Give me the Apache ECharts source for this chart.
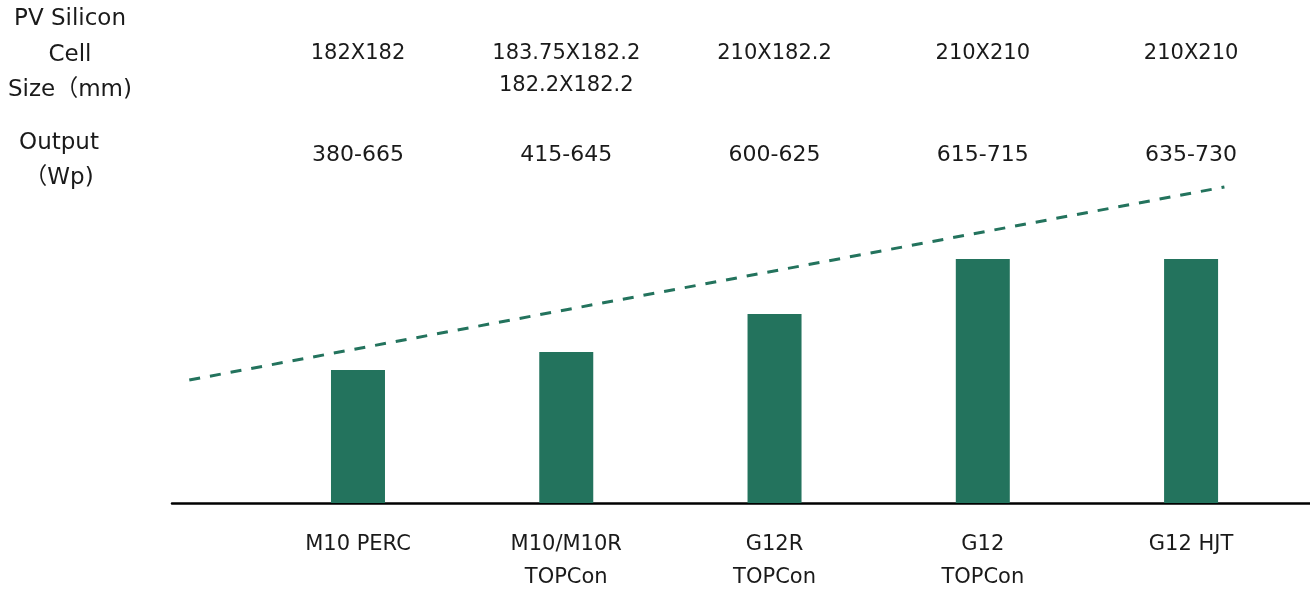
<!DOCTYPE html>
<html>
<head>
<meta charset="utf-8">
<script src="https://cdn.jsdelivr.net/npm/echarts@6/dist/echarts.min.js"></script>
<style>
html,body{margin:0;padding:0;background:#fff;}
#c{width:1310px;height:592px;}
</style>
</head>
<body>
<div id="c"></div>
<script>
// ---- data ----
const categories = ['M10 PERC', 'M10/M10R\nTOPCon', 'G12R\nTOPCon', 'G12\nTOPCon', 'G12 HJT'];
const cellSizes = ['182X182', '183.75X182.2\n182.2X182.2', '210X182.2', '210X210', '210X210'];
const outputs = ['380-665', '415-645', '600-625', '615-715', '635-730'];
const barValues = [33.25, 37.75, 47.25, 61, 61];
const trendLine = [[-0.81, 30.75], [4.16, 79]];
const rowLabelSize = 'PV Silicon\nCell\nSize（mm)';
const rowLabelOutput = 'Output\n（Wp)';
// label row tops (in axis units)
const sizeRowY = 116.25;
const outputRowY = 91;
const catRowY = -6.25;

const FONT = '"DejaVu Sans", "Noto Sans CJK SC", sans-serif';
const GREEN = '#23735D';
const TXT = '#1a1a1a';

const chart = echarts.init(document.getElementById('c'));

function textSeries(labels, y, lh, fs) {
  return {
    type: 'scatter',
    symbolSize: 0,
    clip: false,
    silent: true,
    itemStyle: { opacity: 1 },
    data: labels.map((t, i) => ({ value: [i, y], name: t })),
    label: {
      show: true,
      position: 'inside',
      formatter: p => p.name,
      color: TXT,
      fontSize: fs,
      fontFamily: FONT,
      lineHeight: lh,
      align: 'center',
      verticalAlign: 'top'
    }
  };
}

chart.setOption({
  backgroundColor: '#fff',
  animation: false,
  grid: { left: 172, right: 0, top: 0, bottom: 0 },
  xAxis: {
    type: 'value',
    min: -0.893,
    max: 4.571,
    axisLine: { show: true, onZero: true, lineStyle: { color: '#000', width: 2.5 } },
    axisTick: { show: false },
    axisLabel: { show: false },
    splitLine: { show: false }
  },
  yAxis: {
    type: 'value',
    min: -22.25,
    max: 125.75,
    show: false,
    splitLine: { show: false }
  },
  graphic: [
    {
      type: 'text', x: 70, y: 1.5,
      style: { text: rowLabelSize, font: '23px ' + FONT, fill: TXT, align: 'center', verticalAlign: 'top', lineHeight: 35.5 }
    },
    {
      type: 'text', x: 59, y: 125,
      style: { text: rowLabelOutput, font: '23px ' + FONT, fill: TXT, align: 'center', verticalAlign: 'top', lineHeight: 35.5 }
    }
  ],
  series: [
    {
      type: 'bar',
      barWidth: 54,
      itemStyle: { color: GREEN },
      data: barValues.map((v, i) => [i, v])
    },
    {
      type: 'line',
      symbol: 'none',
      data: trendLine,
      lineStyle: { color: GREEN, width: 3, type: [11, 10] }
    },
    textSeries(cellSizes, sizeRowY, 32, 21),
    textSeries(outputs, outputRowY, 32, 22),
    textSeries(categories, catRowY, 33, 21)
  ]
});
</script>
</body>
</html>
